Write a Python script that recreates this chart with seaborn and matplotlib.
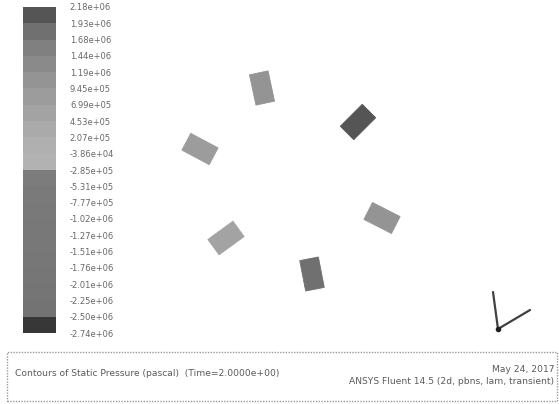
import numpy as np
import matplotlib
matplotlib.use("Agg")
import matplotlib.pyplot as plt
from matplotlib.colors import ListedColormap, Normalize
from matplotlib.patches import Rectangle
import seaborn as sns

# Contour levels shown on the colour scale (Pa), top to bottom
levels = [2.18e6, 1.93e6, 1.68e6, 1.44e6, 1.19e6, 9.45e5, 6.99e5, 4.53e5,
          2.07e5, -3.86e4, -2.85e5, -5.31e5, -7.77e5, -1.02e6, -1.27e6,
          -1.51e6, -1.76e6, -2.01e6, -2.25e6, -2.50e6, -2.74e6]

# Grey shade of each band, highest pressure first
band_grey = [85, 112, 128, 138, 148, 156, 163, 170, 176, 178,
             124, 122, 121, 120, 120, 119, 118, 117, 115, 55]

# Particles: centre (mm), orientation (deg) and static pressure (Pa)
particle_x = [-18, 78, -80, 102, -54, 32]
particle_y = [92, 58, 31, -38, -58, -94]
particle_angle = [102, 45, -28, -27, 36, 101]
particle_p = [1.05e6, 2.05e6, 8.00e5, 1.05e6, 5.80e5, 1.85e6]
particle_len = 31
particle_wid = 19

title_text = "Contours of Static Pressure (pascal)  (Time=2.0000e+00)"
date_text = "May 24, 2017"
solver_text = "ANSYS Fluent 14.5 (2d, pbns, lam, transient)"

sns.set_style("white")
plt.rcParams["font.family"] = ["DejaVu Sans"]

W, H = 559, 404
fig = plt.figure(figsize=(W / 100, H / 100), dpi=100)
fig.patch.set_facecolor("white")

# banded grey colour map, low pressure at the start
greys = [(g / 255, g / 255, g / 255) for g in band_grey[::-1]]
cmap = ListedColormap(greys)
pmin, pmax = min(levels), max(levels)
norm = Normalize(vmin=pmin, vmax=pmax)

# ---- colour scale ----
cax = fig.add_axes([23 / W, 1 - 333 / H, 33 / W, 326 / H])
mids = [(a + b) / 2 for a, b in zip(levels[:-1], levels[1:])]
band_df = np.array(mids).reshape(-1, 1)
sns.heatmap(band_df, ax=cax, cmap=cmap, norm=norm, cbar=False,
            xticklabels=False, yticklabels=False)
cax.set_yticks(np.arange(len(levels)))
cax.set_yticklabels([f"{v:.2e}" for v in levels], fontsize=6, color="#686868")
cax.yaxis.tick_right()
cax.tick_params(axis="y", length=0, pad=10)
for lab in cax.get_yticklabels():
    lab.set_horizontalalignment("left")
cax.tick_params(axis="x", length=0)

# ---- flow domain ----
ax = fig.add_axes([120 / W, 1 - 345 / H, 439 / W, 345 / H])
ax.set_xlim(-160, 279)
ax.set_ylim(-165, 180)
ax.set_aspect("equal")
ax.axis("off")

for x, y, a, p in zip(particle_x, particle_y, particle_angle, particle_p):
    rect = Rectangle((x - particle_len / 2, y - particle_wid / 2),
                     particle_len, particle_wid, angle=a,
                     rotation_point="center", facecolor=cmap(norm(p)),
                     edgecolor=cmap(norm(p)), linewidth=0.6)
    ax.add_patch(rect)

# coordinate triad
ox, oy = 218, -149
ax.plot([ox, ox - 5], [oy, oy + 37], color="#404040", lw=1.6,
        solid_capstyle="round")
ax.plot([ox, ox + 32], [oy, oy + 19], color="#404040", lw=1.6,
        solid_capstyle="round")
ax.plot([ox], [oy], marker="o", ms=3, color="#202020")

# ---- caption box ----
box = Rectangle((7 / W, 1 - 401 / H), 550 / W, 49 / H,
                transform=fig.transFigure, fill=False,
                edgecolor="#9a9a9a", linewidth=1.0, linestyle=(0, (1, 1)))
fig.add_artist(box)
fig.text(15 / W, 1 - 374 / H, title_text, fontsize=6.6, color="#5a5a5a",
         va="center", ha="left")
fig.text(554 / W, 1 - 370 / H, date_text, fontsize=6.6, color="#5a5a5a",
         va="center", ha="right")
fig.text(554 / W, 1 - 382 / H, solver_text, fontsize=6.6, color="#5a5a5a",
         va="center", ha="right")

fig.savefig("out.png", dpi=100)
